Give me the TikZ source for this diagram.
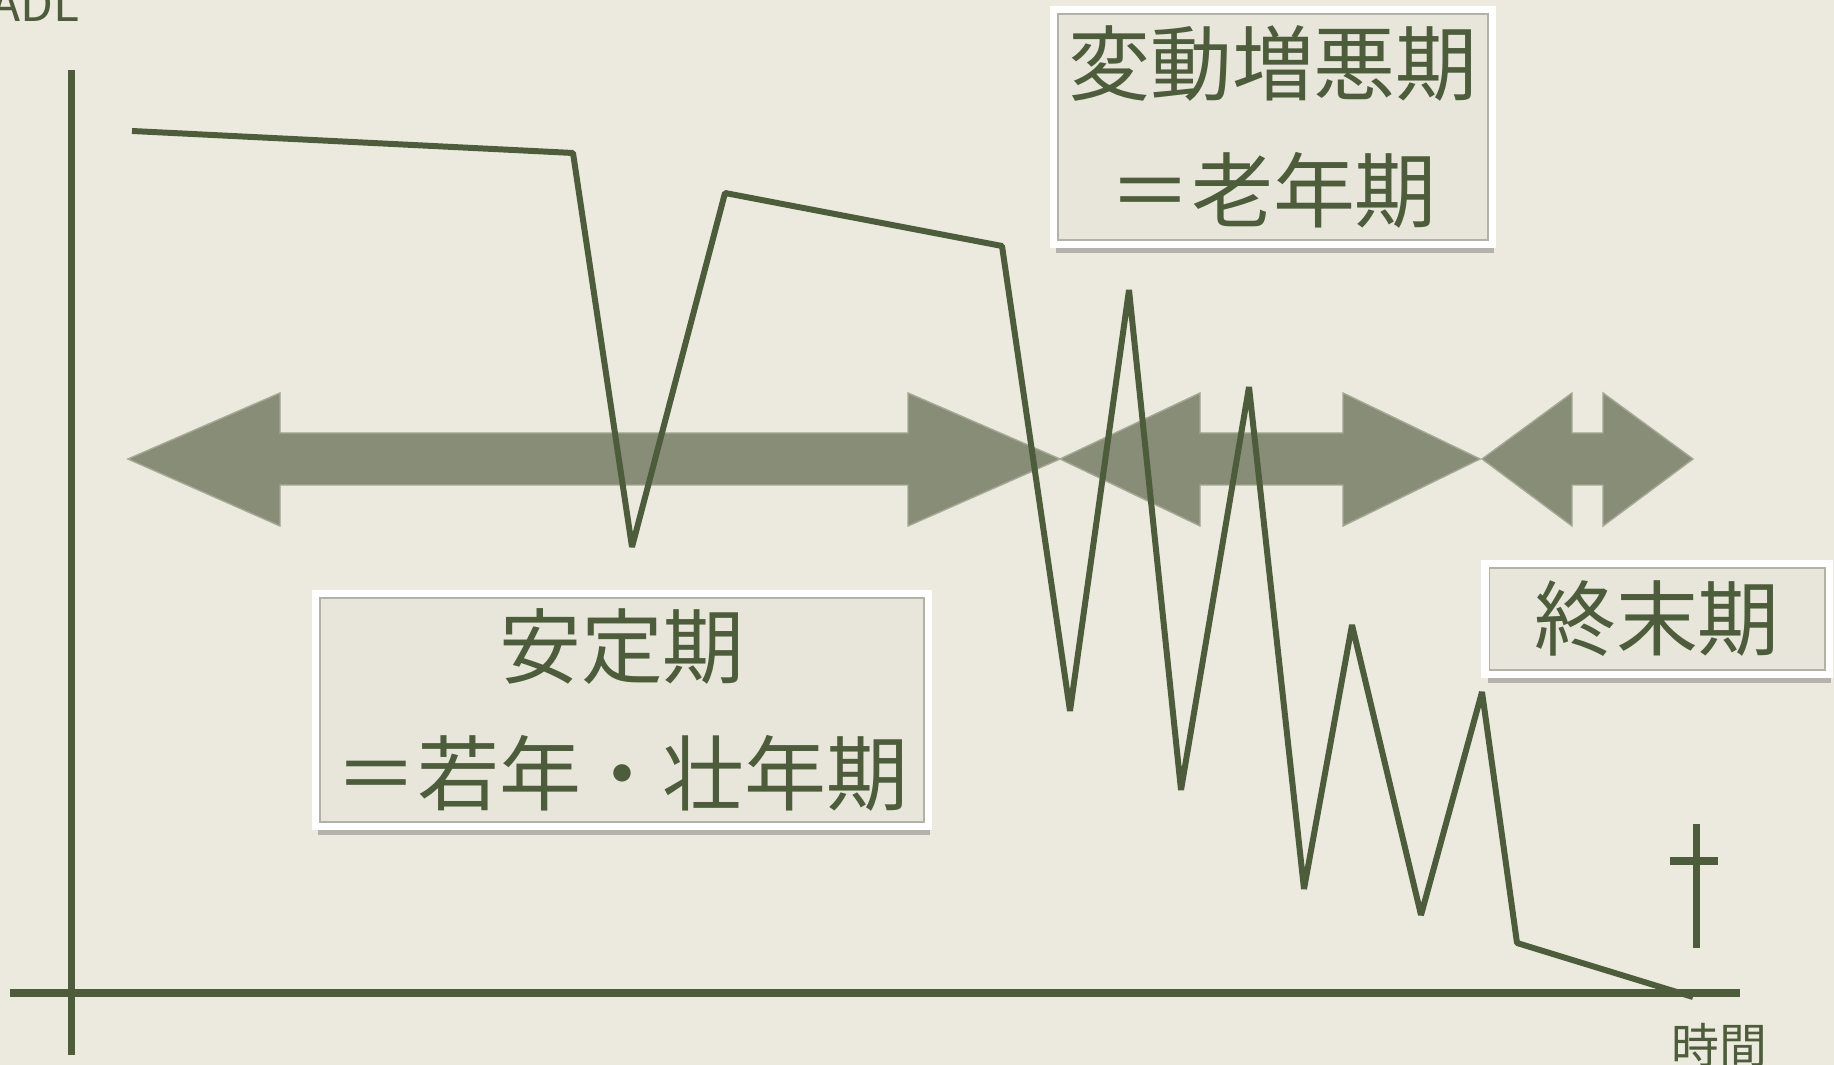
\documentclass[tikz,border=0pt]{standalone}
\usepackage{fontspec}
\setmainfont{Noto Sans CJK JP}
\usetikzlibrary{shadows}
\definecolor{paper}{HTML}{ECEADF}
\definecolor{olive}{HTML}{4D5C3A}
\definecolor{arrowc}{HTML}{878D76}
\definecolor{arrowedge}{HTML}{A4A894}
\definecolor{boxin}{HTML}{E8E6DB}
\definecolor{boxline}{HTML}{B3B2A6}
\begin{document}
\begin{tikzpicture}[x=0.01cm,y=-0.01cm,
  axisline/.style={olive, line width=2pt},
  curve/.style={olive, line width=1.7pt, line join=bevel},
  bigarrow/.style={fill=arrowc, draw=arrowedge, line width=0.4pt},
  framebox/.style={draw=white, line width=2.4pt, fill=boxin, inner sep=0pt, outer sep=0pt,
    text=olive, align=center,
    drop shadow={shadow xshift=0.6pt, shadow yshift=-2.5pt, opacity=0.35, fill=black!70}},
  innerframe/.style={draw=boxline, line width=0.5pt},
  bigtext/.style={font=\fontsize{23.3}{36.2}\selectfont},
  smalltext/.style={font=\fontsize{13.6}{16}\selectfont, text=olive}
]
\fill[paper] (0,0) rectangle (1834,1065);
\useasboundingbox (0,0) rectangle (1834,1065);

% axes
\coordinate (yb) at (71.5,1055);
\coordinate (yt) at (71.5,70);
\coordinate (xl) at (10,993);
\coordinate (xr) at (1740,993);
\draw[axisline] (yb) -- (yt);
\draw[axisline] (xl) -- (xr);

% labels
\node[smalltext, anchor=base east, inner sep=0pt] (adl) at (80,22) {ADL};
\node[smalltext, inner sep=0pt] (time) at (1719,1045) {時間};

% arrows
\path[bigarrow] (128,459) -- (280,393) -- (280,433) -- (908,433) -- (908,393) -- (1060,459)
  -- (908,526) -- (908,485) -- (280,485) -- (280,526) -- cycle;
\path[bigarrow] (1060,459) -- (1200,393) -- (1200,433) -- (1343,433) -- (1343,393) -- (1480,459)
  -- (1343,526) -- (1343,485) -- (1200,485) -- (1200,526) -- cycle;
\path[bigarrow] (1482,459) -- (1572,393) -- (1572,433) -- (1603,433) -- (1603,393) -- (1693,459)
  -- (1603,526) -- (1603,485) -- (1572,485) -- (1572,526) -- cycle;

% main curve
\coordinate (p1) at (132,131);
\coordinate (p2) at (573,153);
\coordinate (p3) at (632,547);
\coordinate (p4) at (725,193);
\coordinate (p5) at (1002,246);
\coordinate (p6) at (1070,711);
\coordinate (p7) at (1129,290);
\coordinate (p8) at (1181,790);
\coordinate (p9) at (1249,387);
\coordinate (p10) at (1304,889);
\coordinate (p11) at (1352,625);
\coordinate (p12) at (1421,915);
\coordinate (p13) at (1482,692);
\coordinate (p14) at (1517,943);
\coordinate (p15) at (1693,997);
\draw[curve] (p1) -- (p2) -- (p3) -- (p4) -- (p5) -- (p6) -- (p7) -- (p8) -- (p9)
  -- (p10) -- (p11) -- (p12) -- (p13) -- (p14) -- (p15);

% dagger
\coordinate (d1) at (1696,824);
\coordinate (d2) at (1696,948);
\coordinate (d3) at (1670,861);
\coordinate (d4) at (1718,861);
\draw[axisline] (d1) -- (d2);
\draw[axisline] (d3) -- (d4);

% boxes
\node[framebox, bigtext, minimum width=4.38cm, minimum height=2.34cm] (b1) at (1273,127)
  {変動増悪期\\＝老年期};
\draw[innerframe] ([shift={(4,4)}]b1.north west) rectangle ([shift={(-4,-4)}]b1.south east);

\node[framebox, bigtext, minimum width=6.11cm, minimum height=2.32cm] (b2) at (622,710)
  {安定期\\＝若年・壮年期};
\draw[innerframe] ([shift={(4,4)}]b2.north west) rectangle ([shift={(-4,-4)}]b2.south east);

\node[framebox, bigtext, minimum width=3.43cm, minimum height=1.10cm] (b3) at (1657,619)
  {終末期};
\draw[innerframe] ([shift={(4,4)}]b3.north west) rectangle ([shift={(-4,-4)}]b3.south east);
\end{tikzpicture}
\end{document}
